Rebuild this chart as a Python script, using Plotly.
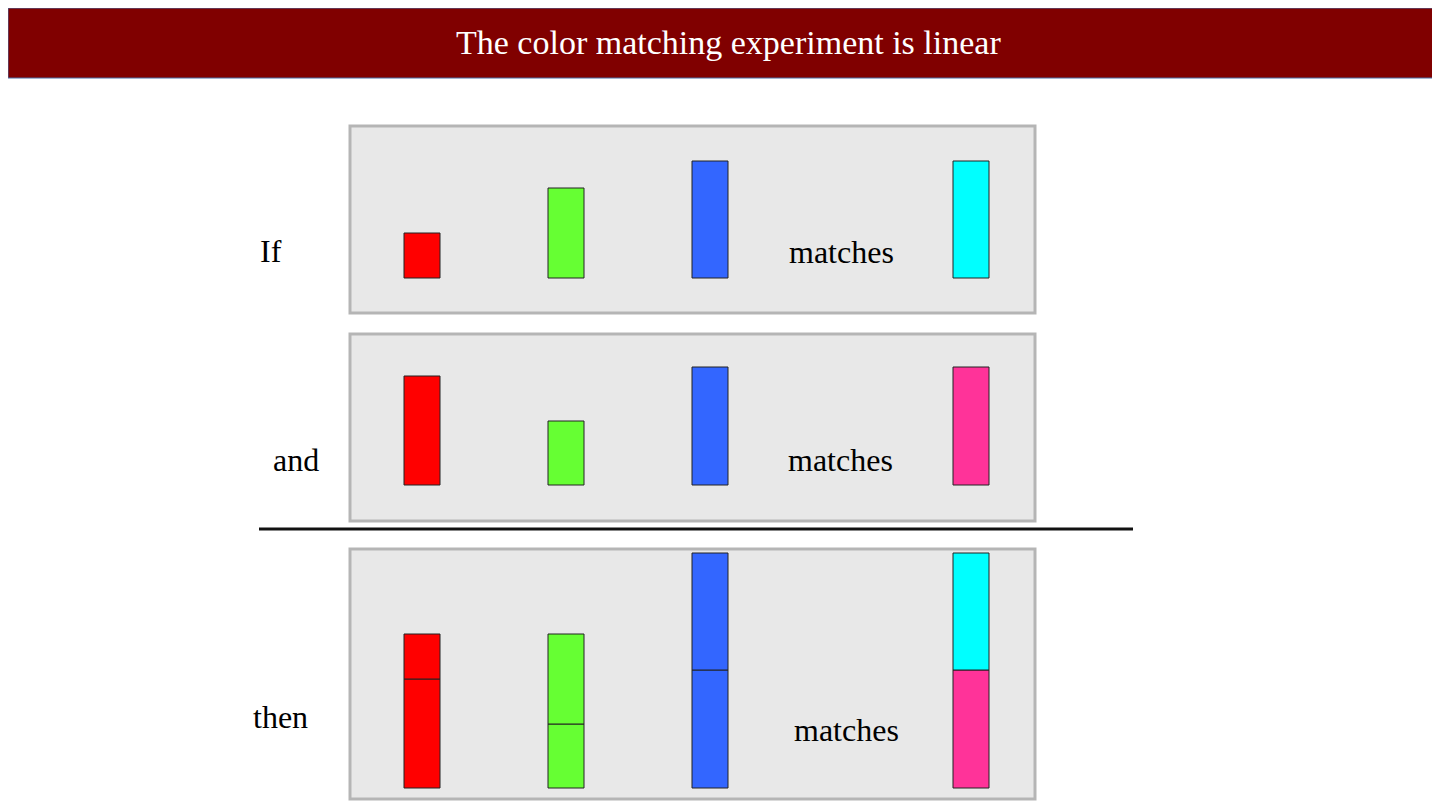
import plotly.graph_objects as go

# bar heights (pixels)
primaries = ["red", "green", "blue"]
first_match = [45, 90, 117]      # matches cyan
second_match = [109, 64, 118]    # matches magenta
cyan_height = 117
magenta_height = 118

row_labels = ["If", "and", "then"]
title = "The color matching experiment is linear"

COLORS = {"red": "#ff0000", "green": "#66ff33", "blue": "#3366ff",
          "cyan": "#00ffff", "magenta": "#ff3399"}
XPOS = [414, 558, 702]
XTEST = 963
W = 36
BASES = [270, 477, 780]
FONT = "Liberation Serif, Times New Roman, serif"

fig = go.Figure()


def bar(x, h, base, color):
    fig.add_trace(go.Bar(
        x=[x], y=[-h], base=[base], width=[W],
        marker=dict(color=color, line=dict(color="#222", width=1)),
        showlegend=False, hoverinfo="skip",
    ))


# row 1
for x, name, h in zip(XPOS, primaries, first_match):
    bar(x, h, BASES[0], COLORS[name])
bar(XTEST, cyan_height, BASES[0], COLORS["cyan"])
# row 2
for x, name, h in zip(XPOS, primaries, second_match):
    bar(x, h, BASES[1], COLORS[name])
bar(XTEST, magenta_height, BASES[1], COLORS["magenta"])
# row 3: sums stacked
for x, name, h1, h2 in zip(XPOS, primaries, first_match, second_match):
    bar(x, h2, BASES[2], COLORS[name])
    bar(x, h1, BASES[2] - h2, COLORS[name])
bar(XTEST, magenta_height, BASES[2], COLORS["magenta"])
bar(XTEST, cyan_height, BASES[2] - magenta_height, COLORS["cyan"])

shapes = [
    dict(type="rect", x0=0, x1=1440, y0=0, y1=70, fillcolor="#800000",
         line=dict(color="#4a6fa5", width=1), layer="below"),
    dict(type="line", x0=251, x1=1125, y0=521, y1=521, line=dict(color="#111", width=3)),
]
for y0, y1 in [(118, 305), (326, 513), (541, 791)]:
    shapes.append(dict(type="rect", x0=342, x1=1027, y0=y0, y1=y1, fillcolor="#e8e8e8",
                       line=dict(color="#b5b5b5", width=3), layer="below"))

annotations = [dict(x=720, y=34, text=title, showarrow=False,
                    font=dict(family=FONT, size=34, color="white"))]
for text, x, y in zip(row_labels, [263, 288, 272], [243, 452, 709]):
    annotations.append(dict(x=x, y=y, text=text, showarrow=False,
                            font=dict(family=FONT, size=32, color="black")))
for x, y in [(833, 244), (832, 452), (838, 722)]:
    annotations.append(dict(x=x, y=y, text="matches", showarrow=False,
                            font=dict(family=FONT, size=32, color="black")))

fig.update_layout(
    width=1440, height=810, margin=dict(l=0, r=0, t=0, b=0),
    plot_bgcolor="white", paper_bgcolor="white", barmode="overlay",
    xaxis=dict(range=[0, 1440], visible=False, fixedrange=True),
    yaxis=dict(range=[810, 0], visible=False, fixedrange=True),
    shapes=shapes, annotations=annotations,
)

fig.write_html("out.html")
